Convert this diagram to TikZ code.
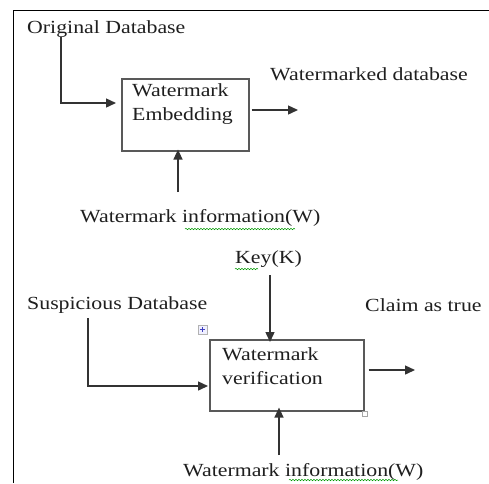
\documentclass[tikz,border=0pt]{standalone}
\usepackage{fontspec}
\setmainfont{Liberation Serif}[FakeStretch=1.18]
\usetikzlibrary{arrows.meta,decorations.pathmorphing}
\begin{document}
\begin{tikzpicture}[x=1pt,y=-1pt,
 lbl/.style={inner sep=0pt, anchor=west, text=black!88, font=\fontsize{18.5}{24}\selectfont},
 blk/.style={draw=black!65, line width=1.6pt, anchor=north west, inner sep=0pt},
 arr/.style={draw=black!80, line width=1.4pt, -{Triangle[length=10pt,width=9pt]}},
 wavy/.style={draw=green!60!black, decorate, decoration={snake, amplitude=0.7pt, segment length=3pt}, line width=0.5pt}]
\useasboundingbox (0,0) rectangle (489,483);
\fill[white] (0,0) rectangle (489,483);
\draw[black, line width=1pt] (13,483) -- (13,10) -- (489,10);

% embedding
\node[blk, minimum width=127pt, minimum height=72pt] (b1) at (121,78) {};
\node[lbl, align=left] (t1) at (132,104) {Watermark\\Embedding};
\node[lbl] (orig) at (27,29) {Original Database};
\node[lbl] (wdb) at (270,74) {Watermarked database};
\node[lbl] (info1) at (80,218) {Watermark information(W)};

\coordinate (c1) at (61,37);
\coordinate (c1e) at (116,103);
\draw[arr] (c1) |- (c1e);
\coordinate (o1) at (298,110);
\draw[arr] (b1.east |- o1) ++(2,0) -- (o1);
\coordinate (w1) at (178,192);
\draw[arr] (w1) -- ([yshift=2pt]w1 |- b1.south);

% verification
\node[blk, minimum width=154pt, minimum height=71pt] (b2) at (209,339) {};
\node[lbl, align=left] (t2) at (222,366) {Watermark\\verification};
\node[lbl] (key) at (235,259) {Key(K)};
\node[lbl] (susp) at (27,305) {Suspicious Database};
\node[lbl] (claim) at (365,305) {Claim as true};
\node[lbl] (info2) at (183,472) {Watermark information(W)};

\coordinate (k1) at (270,275);
\draw[arr] (k1) -- ([yshift=-3pt]k1 |- b2.north);
\coordinate (s1) at (88,318);
\coordinate (s1e) at (208,386);
\draw[arr] (s1) |- (s1e);
\coordinate (o2) at (415,370);
\draw[arr] (b2.east |- o2) ++(4,0) -- (o2);
\coordinate (w2) at (279,455);
\draw[arr] (w2) -- ([yshift=4pt]w2 |- b2.south);

% spelling marks
\draw[wavy] (185,229) -- (295,229);
\draw[wavy] (289,480) -- (398,480);
\draw[wavy] (235,269) -- (258,269);

% editor handles
\draw[draw=gray!60, fill=blue!6, line width=0.4pt] (198,325) rectangle (207,334);
\draw[blue!50!gray, line width=0.8pt] (202.5,327) -- (202.5,332) (200,329.5) -- (205,329.5);
\draw[draw=gray!70, fill=white, line width=0.4pt] (362,411) rectangle (367,416);
\end{tikzpicture}
\end{document}
